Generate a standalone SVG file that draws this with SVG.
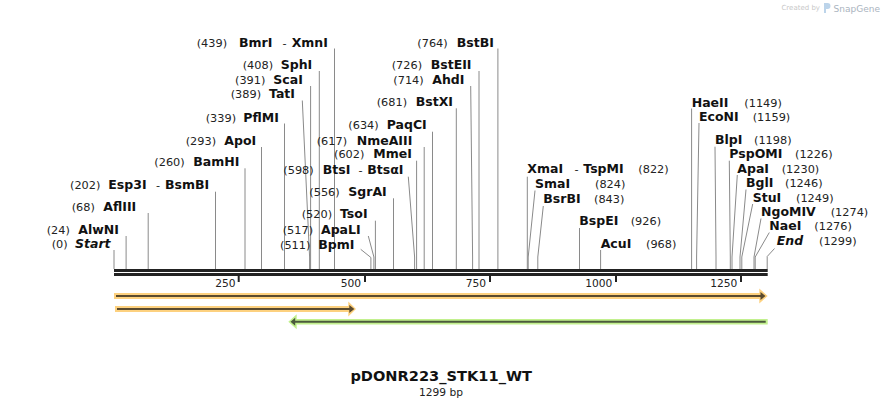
<svg xmlns="http://www.w3.org/2000/svg" width="882" height="408" viewBox="0 0 882 408">
<style>
text{font-family:"DejaVu Sans","Verdana","Liberation Sans",sans-serif;fill:#111}
.n{font-size:11.3px;fill:#222}
.e{font-size:12.5px;font-weight:bold}
.i{font-style:italic}
.t{font-size:10.67px;fill:#222}
.ld{fill:none;stroke:#8a8a8a;stroke-width:1}
.bb{fill:#222}
.oh{fill:#fdd17f}
.gh{fill:#c2f08e}
.od{fill:#5a4a2e}
.gd{fill:#4b5a3c}
</style>
<rect width="882" height="408" fill="#fff"/>
<g id="watermark">
<text x="820" y="10" text-anchor="end" style="font-size:7px;fill:#c8c8c8">Created by</text>
<path d="M824 3 h3.5 a3 3 0 0 1 0 6 h-1.5 v4 h-2 z" fill="#bcd4ea"/>
<text x="880" y="11.5" text-anchor="end" style="font-size:9px;fill:#aab4c0">SnapGene</text>
</g>
<g id="connectors">
<path class="ld" d="M114 250V269"/>
<path class="ld" d="M126.1 236V269"/>
<path class="ld" d="M148.2 213V269"/>
<path class="ld" d="M215.5 191.7V269"/>
<path class="ld" d="M245 168.3V269"/>
<path class="ld" d="M261.5 147V269"/>
<path class="ld" d="M284.5 123.5V269"/>
<path class="ld" d="M302.3 100.5L309.6 257V269"/>
<path class="ld" d="M310.6 86V269"/>
<path class="ld" d="M319.3 71V269"/>
<path class="ld" d="M334.5 48.5V269"/>
<path class="ld" d="M360.7 249.3L370.9 257.5V269"/>
<path class="ld" d="M368.3 236L373.9 257V269"/>
<path class="ld" d="M375.4 220.7V269"/>
<path class="ld" d="M393.5 198.3V269"/>
<path class="ld" d="M408.3 176.7L414.6 257V269"/>
<path class="ld" d="M416.6 160.7V269"/>
<path class="ld" d="M424.2 147V269"/>
<path class="ld" d="M432.5 131.7V269"/>
<path class="ld" d="M456.3 108.3V269"/>
<path class="ld" d="M470.7 86L472.6 257V269"/>
<path class="ld" d="M479 71V269"/>
<path class="ld" d="M497.9 48.5V269"/>
<path class="ld" d="M527.3 176.7V269"/>
<path class="ld" d="M535 190.5L528.2 257V269"/>
<path class="ld" d="M543.3 206L537.8 257V269"/>
<path class="ld" d="M579.5 228V269"/>
<path class="ld" d="M600.6 250V269"/>
<path class="ld" d="M691.6 108.5V269"/>
<path class="ld" d="M699 123L696.6 257V269"/>
<path class="ld" d="M715 146.7L716 257V269"/>
<path class="ld" d="M729.3 160.7L730.3 257V269"/>
<path class="ld" d="M737.3 175L732 257V269"/>
<path class="ld" d="M746 189.5L740 257V269"/>
<path class="ld" d="M752.7 204L741.8 257V269"/>
<path class="ld" d="M761 218.5L754 257V269"/>
<path class="ld" d="M769.3 232.5L755.2 257V269"/>
<path class="ld" d="M774.5 248.5L767.2 256.5V269"/>
</g>
<g id="backbone">
<rect class="bb" x="114" y="269" width="653.7" height="3"/>
<rect class="bb" x="114" y="273" width="653.7" height="3"/>
<rect class="bb" x="237.7" y="275" width="2" height="7"/>
<rect class="bb" x="364" y="275" width="2" height="7"/>
<rect class="bb" x="489" y="275" width="2" height="7"/>
<rect class="bb" x="615" y="275" width="2" height="7"/>
<rect class="bb" x="740" y="275" width="2" height="7"/>
<text class="t" x="235.5" y="286.5" text-anchor="end">250</text>
<text class="t" x="361" y="286.5" text-anchor="end">500</text>
<text class="t" x="486" y="286.5" text-anchor="end">750</text>
<text class="t" x="612.3" y="286.5" text-anchor="end">1000</text>
<text class="t" x="737.3" y="286.5" text-anchor="end">1250</text>
</g>
<g id="feature1">
<path class="oh" d="M114 293H759.3V288.5L767.7 296L759.3 303.5V299H114Z"/>
<path class="od" d="M116 295H760.5V292L765.5 296L760.5 300V297H116Z"/>
</g>
<g id="feature2">
<path class="oh" d="M115 306H348.3V301.5L356 309L348.3 316.5V312H115Z"/>
<path class="od" d="M117 308H349.3V305L354.3 309L349.3 313V310H117Z"/>
</g>
<g id="feature3">
<path class="gh" d="M767.7 319H296.7V314.2L288.3 321.7L296.7 329.2V324.4H767.7Z"/>
<path class="gd" d="M765.7 320.7H295.2V317.7L290.5 321.7L295.2 325.7V322.7H765.7Z"/>
</g>
<g id="Start"><text class="n" x="51.7" y="248">(0)</text><text class="e i" x="75" y="248">Start</text></g>
<g id="AlwNI"><text class="n" x="46.7" y="233.5">(24)</text><text class="e" x="78.3" y="233.5">AlwNI</text></g>
<g id="AflIII"><text class="n" x="71.7" y="210.5">(68)</text><text class="e" x="103.3" y="210.5">AflIII</text></g>
<g id="Esp3I"><text class="n" x="70" y="188.5">(202)</text><text class="e" x="108.3" y="188.5">Esp3I</text><text class="n" x="156" y="188.5">-</text><text class="e" x="165" y="188.5">BsmBI</text></g>
<g id="BamHI"><text class="n" x="154.3" y="166">(260)</text><text class="e" x="193.3" y="166">BamHI</text></g>
<g id="ApoI"><text class="n" x="185.7" y="144.5">(293)</text><text class="e" x="224.3" y="144.5">ApoI</text></g>
<g id="PflMI"><text class="n" x="205.7" y="121.5">(339)</text><text class="e" x="243.3" y="121.5">PflMI</text></g>
<g id="TatI"><text class="n" x="230.7" y="98">(389)</text><text class="e" x="269" y="98">TatI</text></g>
<g id="ScaI"><text class="n" x="235" y="83.5">(391)</text><text class="e" x="273.3" y="83.5">ScaI</text></g>
<g id="SphI"><text class="n" x="242.7" y="68.5">(408)</text><text class="e" x="280.7" y="68.5">SphI</text></g>
<g id="BmrI"><text class="n" x="196.7" y="46.5">(439)</text><text class="e" x="239" y="46.5">BmrI</text><text class="n" x="282.5" y="46.5">-</text><text class="e" x="291.7" y="46.5">XmnI</text></g>
<g id="BpmI"><text class="n" x="280" y="248.5">(511)</text><text class="e" x="318.3" y="248.5">BpmI</text></g>
<g id="ApaLI"><text class="n" x="282.7" y="233.5">(517)</text><text class="e" x="321" y="233.5">ApaLI</text></g>
<g id="TsoI"><text class="n" x="301.7" y="218">(520)</text><text class="e" x="340" y="218">TsoI</text></g>
<g id="SgrAI"><text class="n" x="309.3" y="195.5">(556)</text><text class="e" x="348.3" y="195.5">SgrAI</text></g>
<g id="BtsI"><text class="n" x="283.3" y="173.5">(598)</text><text class="e" x="322.7" y="173.5">BtsI</text><text class="n" x="358.5" y="173.5">-</text><text class="e" x="367.3" y="173.5">BtsαI</text></g>
<g id="MmeI"><text class="n" x="334" y="158">(602)</text><text class="e" x="373.3" y="158">MmeI</text></g>
<g id="NmeAIII"><text class="n" x="316.7" y="144.5">(617)</text><text class="e" x="356.7" y="144.5">NmeAIII</text></g>
<g id="PaqCI"><text class="n" x="348.3" y="129">(634)</text><text class="e" x="386.7" y="129">PaqCI</text></g>
<g id="BstXI"><text class="n" x="376.7" y="105.5">(681)</text><text class="e" x="415.7" y="105.5">BstXI</text></g>
<g id="AhdI"><text class="n" x="393.3" y="83.5">(714)</text><text class="e" x="432.3" y="83.5">AhdI</text></g>
<g id="BstEII"><text class="n" x="391.7" y="68.5">(726)</text><text class="e" x="430.7" y="68.5">BstEII</text></g>
<g id="BstBI"><text class="n" x="417.3" y="46.5">(764)</text><text class="e" x="456.7" y="46.5">BstBI</text></g>
<g id="XmaI"><text class="e" x="527.3" y="173">XmaI</text><text class="n" x="574.5" y="173">-</text><text class="e" x="583.3" y="173">TspMI</text><text class="n" x="638.3" y="173">(822)</text></g>
<g id="SmaI"><text class="e" x="535" y="188">SmaI</text><text class="n" x="595" y="188">(824)</text></g>
<g id="BsrBI"><text class="e" x="543.3" y="203">BsrBI</text><text class="n" x="594" y="203">(843)</text></g>
<g id="BspEI"><text class="e" x="579.3" y="225">BspEI</text><text class="n" x="630.7" y="225">(926)</text></g>
<g id="AcuI"><text class="e" x="600.7" y="248">AcuI</text><text class="n" x="646" y="248">(968)</text></g>
<g id="HaeII"><text class="e" x="691.7" y="106.5">HaeII</text><text class="n" x="744.3" y="106.5">(1149)</text></g>
<g id="EcoNI"><text class="e" x="699" y="120.5">EcoNI</text><text class="n" x="752.7" y="120.5">(1159)</text></g>
<g id="BlpI"><text class="e" x="715" y="144">BlpI</text><text class="n" x="754" y="144">(1198)</text></g>
<g id="PspOMI"><text class="e" x="729.3" y="158">PspOMI</text><text class="n" x="795" y="158">(1226)</text></g>
<g id="ApaI"><text class="e" x="737.3" y="172.5">ApaI</text><text class="n" x="781.7" y="172.5">(1230)</text></g>
<g id="BglI"><text class="e" x="746" y="187">BglI</text><text class="n" x="785" y="187">(1246)</text></g>
<g id="StuI"><text class="e" x="752.7" y="201.5">StuI</text><text class="n" x="796" y="201.5">(1249)</text></g>
<g id="NgoMIV"><text class="e" x="761" y="216">NgoMIV</text><text class="n" x="830.7" y="216">(1274)</text></g>
<g id="NaeI"><text class="e" x="769.3" y="230">NaeI</text><text class="n" x="814.3" y="230">(1276)</text></g>
<g id="End"><text class="e i" x="776.7" y="245">End</text><text class="n" x="819" y="245">(1299)</text></g>
<g id="title">
<text x="441.2" y="380.5" text-anchor="middle" style="font-size:14.6px;font-weight:bold">pDONR223_STK11_WT</text>
<text x="441" y="395.5" text-anchor="middle" style="font-size:10.67px;fill:#222">1299 bp</text>
</g>
</svg>
